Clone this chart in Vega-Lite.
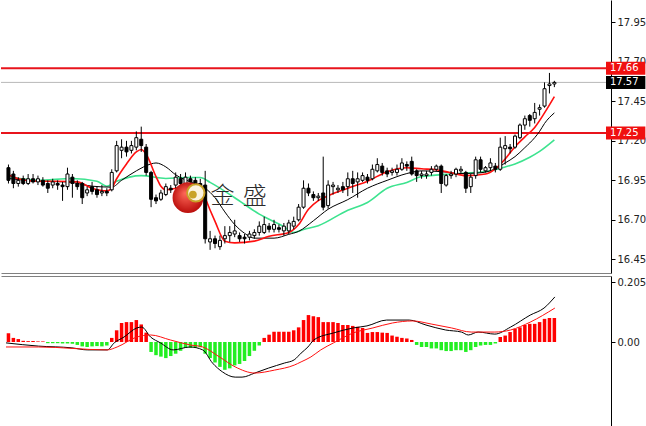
{
  "$schema": "https://vega.github.io/schema/vega-lite/v6.json",
  "padding": 0,
  "spacing": 3,
  "bounds": "flush",
  "background": "white",
  "config": {"view": {"stroke": null}},
  "datasets": {
    "candles": [
      {"i":0,"o":17.03,"h":17.05,"l":16.93,"c":16.95,"m":0.03},
      {"i":1,"o":16.99,"h":17.01,"l":16.90,"c":16.93,"m":0.014},
      {"i":2,"o":16.93,"h":16.97,"l":16.91,"c":16.95,"m":0.01},
      {"i":3,"o":16.96,"h":16.98,"l":16.92,"c":16.93,"m":0.004},
      {"i":4,"o":16.93,"h":16.99,"l":16.92,"c":16.96,"m":0.003},
      {"i":5,"o":16.96,"h":16.99,"l":16.93,"c":16.94,"m":0.003},
      {"i":6,"o":16.94,"h":16.98,"l":16.92,"c":16.96,"m":0.002},
      {"i":7,"o":16.95,"h":16.97,"l":16.91,"c":16.92,"m":0.002},
      {"i":8,"o":16.93,"h":16.95,"l":16.87,"c":16.90,"m":-0.004},
      {"i":9,"o":16.92,"h":16.96,"l":16.90,"c":16.94,"m":-0.004},
      {"i":10,"o":16.93,"h":16.95,"l":16.89,"c":16.92,"m":-0.004},
      {"i":11,"o":16.92,"h":16.94,"l":16.82,"c":16.91,"m":-0.005},
      {"i":12,"o":16.91,"h":17.03,"l":16.89,"c":16.99,"m":-0.005},
      {"i":13,"o":16.97,"h":16.99,"l":16.84,"c":16.93,"m":-0.006},
      {"i":14,"o":16.93,"h":16.95,"l":16.89,"c":16.91,"m":-0.01},
      {"i":15,"o":16.93,"h":16.94,"l":16.80,"c":16.84,"m":-0.015},
      {"i":16,"o":16.87,"h":16.91,"l":16.85,"c":16.89,"m":-0.017},
      {"i":17,"o":16.91,"h":16.94,"l":16.86,"c":16.88,"m":-0.015},
      {"i":18,"o":16.89,"h":16.91,"l":16.84,"c":16.86,"m":-0.014},
      {"i":19,"o":16.87,"h":16.92,"l":16.85,"c":16.88,"m":-0.015},
      {"i":20,"o":16.88,"h":16.90,"l":16.85,"c":16.87,"m":-0.012},
      {"i":21,"o":16.89,"h":17.02,"l":16.88,"c":17.00,"m":0.014},
      {"i":22,"o":17.01,"h":17.20,"l":17.00,"c":17.17,"m":0.04},
      {"i":23,"o":17.14,"h":17.21,"l":17.09,"c":17.16,"m":0.065},
      {"i":24,"o":17.16,"h":17.20,"l":17.10,"c":17.13,"m":0.068},
      {"i":25,"o":17.14,"h":17.20,"l":17.12,"c":17.17,"m":0.068},
      {"i":26,"o":17.16,"h":17.26,"l":17.14,"c":17.22,"m":0.075},
      {"i":27,"o":17.21,"h":17.29,"l":17.13,"c":17.17,"m":0.06},
      {"i":28,"o":17.16,"h":17.18,"l":16.98,"c":17.00,"m":0.032},
      {"i":29,"o":17.00,"h":17.01,"l":16.78,"c":16.83,"m":-0.034},
      {"i":30,"o":16.84,"h":16.86,"l":16.80,"c":16.82,"m":-0.045},
      {"i":31,"o":16.83,"h":16.89,"l":16.82,"c":16.87,"m":-0.05},
      {"i":32,"o":16.86,"h":16.93,"l":16.85,"c":16.91,"m":-0.055},
      {"i":33,"o":16.90,"h":16.92,"l":16.87,"c":16.89,"m":-0.048},
      {"i":34,"o":16.92,"h":17.00,"l":16.90,"c":16.97,"m":-0.04},
      {"i":35,"o":16.96,"h":16.99,"l":16.91,"c":16.93,"m":-0.03},
      {"i":36,"o":16.93,"h":17.00,"l":16.91,"c":16.97,"m":-0.02},
      {"i":37,"o":16.96,"h":16.98,"l":16.92,"c":16.94,"m":-0.02},
      {"i":38,"o":16.95,"h":16.97,"l":16.90,"c":16.92,"m":-0.02},
      {"i":39,"o":16.93,"h":16.96,"l":16.86,"c":16.88,"m":-0.018},
      {"i":40,"o":16.92,"h":17.01,"l":16.55,"c":16.58,"m":-0.04},
      {"i":41,"o":16.56,"h":16.63,"l":16.51,"c":16.58,"m":-0.055},
      {"i":42,"o":16.58,"h":16.60,"l":16.52,"c":16.55,"m":-0.07},
      {"i":43,"o":16.53,"h":16.60,"l":16.51,"c":16.57,"m":-0.085},
      {"i":44,"o":16.58,"h":16.66,"l":16.55,"c":16.60,"m":-0.095},
      {"i":45,"o":16.60,"h":16.66,"l":16.56,"c":16.62,"m":-0.09},
      {"i":46,"o":16.61,"h":16.70,"l":16.59,"c":16.63,"m":-0.08},
      {"i":47,"o":16.60,"h":16.62,"l":16.56,"c":16.58,"m":-0.075},
      {"i":48,"o":16.59,"h":16.61,"l":16.55,"c":16.58,"m":-0.065},
      {"i":49,"o":16.59,"h":16.63,"l":16.57,"c":16.61,"m":-0.048},
      {"i":50,"o":16.60,"h":16.64,"l":16.58,"c":16.62,"m":-0.03},
      {"i":51,"o":16.62,"h":16.69,"l":16.60,"c":16.66,"m":-0.012},
      {"i":52,"o":16.62,"h":16.72,"l":16.61,"c":16.67,"m":0.014},
      {"i":53,"o":16.66,"h":16.68,"l":16.62,"c":16.64,"m":0.025},
      {"i":54,"o":16.64,"h":16.70,"l":16.62,"c":16.67,"m":0.035},
      {"i":55,"o":16.65,"h":16.67,"l":16.62,"c":16.64,"m":0.035},
      {"i":56,"o":16.63,"h":16.68,"l":16.60,"c":16.66,"m":0.035},
      {"i":57,"o":16.63,"h":16.70,"l":16.61,"c":16.68,"m":0.035},
      {"i":58,"o":16.66,"h":16.72,"l":16.64,"c":16.69,"m":0.04},
      {"i":59,"o":16.70,"h":16.80,"l":16.69,"c":16.78,"m":0.05},
      {"i":60,"o":16.78,"h":16.95,"l":16.77,"c":16.90,"m":0.075},
      {"i":61,"o":16.90,"h":16.93,"l":16.85,"c":16.87,"m":0.092},
      {"i":62,"o":16.86,"h":16.88,"l":16.82,"c":16.84,"m":0.088},
      {"i":63,"o":16.84,"h":16.87,"l":16.82,"c":16.85,"m":0.085},
      {"i":64,"o":16.87,"h":17.10,"l":16.76,"c":16.78,"m":0.068},
      {"i":65,"o":16.79,"h":16.95,"l":16.77,"c":16.92,"m":0.068},
      {"i":66,"o":16.91,"h":16.94,"l":16.86,"c":16.92,"m":0.068},
      {"i":67,"o":16.89,"h":16.92,"l":16.87,"c":16.90,"m":0.065},
      {"i":68,"o":16.91,"h":16.94,"l":16.87,"c":16.89,"m":0.058},
      {"i":69,"o":16.91,"h":17.00,"l":16.85,"c":16.96,"m":0.058},
      {"i":70,"o":16.96,"h":17.01,"l":16.87,"c":16.93,"m":0.055},
      {"i":71,"o":16.94,"h":17.00,"l":16.84,"c":16.96,"m":0.052},
      {"i":72,"o":16.95,"h":17.00,"l":16.94,"c":16.98,"m":0.048},
      {"i":73,"o":16.97,"h":16.99,"l":16.93,"c":16.95,"m":0.031},
      {"i":74,"o":16.96,"h":17.05,"l":16.95,"c":17.02,"m":0.034},
      {"i":75,"o":17.01,"h":17.09,"l":17.00,"c":17.05,"m":0.034},
      {"i":76,"o":17.04,"h":17.06,"l":16.98,"c":17.00,"m":0.032},
      {"i":77,"o":17.01,"h":17.03,"l":16.97,"c":16.99,"m":0.031},
      {"i":78,"o":17.00,"h":17.03,"l":16.98,"c":17.01,"m":0.022},
      {"i":79,"o":17.00,"h":17.05,"l":16.98,"c":17.02,"m":0.018},
      {"i":80,"o":17.02,"h":17.09,"l":17.01,"c":17.06,"m":0.014},
      {"i":81,"o":17.05,"h":17.07,"l":17.01,"c":17.04,"m":0.012},
      {"i":82,"o":17.07,"h":17.10,"l":16.98,"c":16.99,"m":0.007},
      {"i":83,"o":17.01,"h":17.02,"l":16.94,"c":16.98,"m":-0.01},
      {"i":84,"o":16.98,"h":17.01,"l":16.96,"c":16.99,"m":-0.017},
      {"i":85,"o":16.98,"h":17.01,"l":16.96,"c":16.99,"m":-0.017},
      {"i":86,"o":17.00,"h":17.04,"l":16.98,"c":17.02,"m":-0.022},
      {"i":87,"o":17.02,"h":17.05,"l":17.01,"c":17.04,"m":-0.022},
      {"i":88,"o":17.04,"h":17.05,"l":16.87,"c":16.93,"m":-0.028},
      {"i":89,"o":16.92,"h":16.99,"l":16.91,"c":16.98,"m":-0.031},
      {"i":90,"o":16.98,"h":17.01,"l":16.96,"c":16.99,"m":-0.031},
      {"i":91,"o":16.99,"h":17.03,"l":16.97,"c":17.02,"m":-0.028},
      {"i":92,"o":17.01,"h":17.04,"l":16.99,"c":17.02,"m":-0.028},
      {"i":93,"o":17.00,"h":17.01,"l":16.87,"c":16.90,"m":-0.034},
      {"i":94,"o":16.91,"h":16.99,"l":16.87,"c":16.97,"m":-0.028},
      {"i":95,"o":16.98,"h":17.10,"l":16.96,"c":17.08,"m":-0.017},
      {"i":96,"o":17.08,"h":17.10,"l":17.00,"c":17.02,"m":-0.012},
      {"i":97,"o":17.01,"h":17.04,"l":17.00,"c":17.03,"m":-0.01},
      {"i":98,"o":17.03,"h":17.09,"l":17.01,"c":17.06,"m":-0.01},
      {"i":99,"o":17.04,"h":17.06,"l":17.00,"c":17.02,"m":-0.005},
      {"i":100,"o":17.02,"h":17.22,"l":17.01,"c":17.16,"m":0.017},
      {"i":101,"o":17.15,"h":17.23,"l":17.05,"c":17.17,"m":0.022},
      {"i":102,"o":17.16,"h":17.18,"l":17.12,"c":17.15,"m":0.034},
      {"i":103,"o":17.16,"h":17.24,"l":17.15,"c":17.23,"m":0.045},
      {"i":104,"o":17.22,"h":17.31,"l":17.21,"c":17.30,"m":0.05},
      {"i":105,"o":17.30,"h":17.36,"l":17.27,"c":17.34,"m":0.058},
      {"i":106,"o":17.36,"h":17.37,"l":17.29,"c":17.33,"m":0.062},
      {"i":107,"o":17.34,"h":17.44,"l":17.31,"c":17.38,"m":0.062},
      {"i":108,"o":17.40,"h":17.43,"l":17.36,"c":17.41,"m":0.068},
      {"i":109,"o":17.42,"h":17.57,"l":17.41,"c":17.53,"m":0.079},
      {"i":110,"o":17.55,"h":17.63,"l":17.50,"c":17.56,"m":0.082},
      {"i":111,"o":17.56,"h":17.58,"l":17.54,"c":17.57,"m":0.082}
    ],
    "ma": [
      {"i":0,"v":16.985,"s":"fast"},{"i":2,"v":16.96,"s":"fast"},{"i":6,"v":16.944,"s":"fast"},{"i":10,"v":16.944,"s":"fast"},{"i":14,"v":16.94,"s":"fast"},{"i":17,"v":16.90,"s":"fast"},{"i":20,"v":16.883,"s":"fast"},{"i":21,"v":16.90,"s":"fast"},{"i":22,"v":16.96,"s":"fast"},{"i":24,"v":17.054,"s":"fast"},{"i":26,"v":17.13,"s":"fast"},{"i":27,"v":17.145,"s":"fast"},{"i":28,"v":17.115,"s":"fast"},{"i":30,"v":16.974,"s":"fast"},{"i":31,"v":16.913,"s":"fast"},{"i":32,"v":16.89,"s":"fast"},{"i":34,"v":16.90,"s":"fast"},{"i":36,"v":16.925,"s":"fast"},{"i":39,"v":16.925,"s":"fast"},{"i":40,"v":16.84,"s":"fast"},{"i":42,"v":16.69,"s":"fast"},{"i":44,"v":16.565,"s":"fast"},{"i":46,"v":16.554,"s":"fast"},{"i":50,"v":16.565,"s":"fast"},{"i":53,"v":16.596,"s":"fast"},{"i":57,"v":16.62,"s":"fast"},{"i":59,"v":16.67,"s":"fast"},{"i":61,"v":16.767,"s":"fast"},{"i":63,"v":16.822,"s":"fast"},{"i":65,"v":16.852,"s":"fast"},{"i":69,"v":16.90,"s":"fast"},{"i":73,"v":16.944,"s":"fast"},{"i":77,"v":17.005,"s":"fast"},{"i":81,"v":17.03,"s":"fast"},{"i":84,"v":17.023,"s":"fast"},{"i":87,"v":17.017,"s":"fast"},{"i":90,"v":16.998,"s":"fast"},{"i":93,"v":16.98,"s":"fast"},{"i":97,"v":16.99,"s":"fast"},{"i":99,"v":17.023,"s":"fast"},{"i":101,"v":17.085,"s":"fast"},{"i":103,"v":17.163,"s":"fast"},{"i":105,"v":17.225,"s":"fast"},{"i":107,"v":17.285,"s":"fast"},{"i":109,"v":17.377,"s":"fast"},{"i":111,"v":17.48,"s":"fast"},
      {"i":0,"v":16.962,"s":"mid"},{"i":6,"v":16.944,"s":"mid"},{"i":12,"v":16.94,"s":"mid"},{"i":17,"v":16.913,"s":"mid"},{"i":21,"v":16.907,"s":"mid"},{"i":23,"v":16.95,"s":"mid"},{"i":26,"v":17.01,"s":"mid"},{"i":29,"v":17.054,"s":"mid"},{"i":30,"v":17.06,"s":"mid"},{"i":32,"v":17.035,"s":"mid"},{"i":34,"v":16.985,"s":"mid"},{"i":37,"v":16.94,"s":"mid"},{"i":40,"v":16.90,"s":"mid"},{"i":42,"v":16.84,"s":"mid"},{"i":44,"v":16.75,"s":"mid"},{"i":46,"v":16.67,"s":"mid"},{"i":48,"v":16.615,"s":"mid"},{"i":50,"v":16.584,"s":"mid"},{"i":54,"v":16.584,"s":"mid"},{"i":57,"v":16.608,"s":"mid"},{"i":59,"v":16.627,"s":"mid"},{"i":62,"v":16.694,"s":"mid"},{"i":65,"v":16.767,"s":"mid"},{"i":69,"v":16.828,"s":"mid"},{"i":73,"v":16.90,"s":"mid"},{"i":77,"v":16.95,"s":"mid"},{"i":81,"v":16.993,"s":"mid"},{"i":84,"v":17.01,"s":"mid"},{"i":88,"v":17.005,"s":"mid"},{"i":92,"v":16.993,"s":"mid"},{"i":96,"v":16.998,"s":"mid"},{"i":99,"v":17.023,"s":"mid"},{"i":101,"v":17.06,"s":"mid"},{"i":103,"v":17.10,"s":"mid"},{"i":105,"v":17.157,"s":"mid"},{"i":107,"v":17.22,"s":"mid"},{"i":108,"v":17.26,"s":"mid"},{"i":109,"v":17.31,"s":"mid"},{"i":111,"v":17.377,"s":"mid"},
      {"i":0,"v":16.974,"s":"slow"},{"i":6,"v":16.95,"s":"slow"},{"i":13,"v":16.962,"s":"slow"},{"i":18,"v":16.944,"s":"slow"},{"i":20,"v":16.913,"s":"slow"},{"i":22,"v":16.944,"s":"slow"},{"i":27,"v":16.98,"s":"slow"},{"i":32,"v":16.962,"s":"slow"},{"i":36,"v":16.968,"s":"slow"},{"i":39,"v":16.968,"s":"slow"},{"i":41,"v":16.937,"s":"slow"},{"i":46,"v":16.84,"s":"slow"},{"i":51,"v":16.736,"s":"slow"},{"i":56,"v":16.657,"s":"slow"},{"i":58,"v":16.62,"s":"slow"},{"i":60,"v":16.639,"s":"slow"},{"i":63,"v":16.663,"s":"slow"},{"i":69,"v":16.761,"s":"slow"},{"i":73,"v":16.81,"s":"slow"},{"i":77,"v":16.90,"s":"slow"},{"i":81,"v":16.937,"s":"slow"},{"i":84,"v":16.974,"s":"slow"},{"i":90,"v":16.99,"s":"slow"},{"i":97,"v":17.005,"s":"slow"},{"i":101,"v":17.035,"s":"slow"},{"i":103,"v":17.054,"s":"slow"},{"i":106,"v":17.096,"s":"slow"},{"i":108,"v":17.133,"s":"slow"},{"i":111,"v":17.206,"s":"slow"}
    ],
    "macd": [
      {"i":-0.5,"v":-0.003,"s":"macd"},{"i":6.1,"v":-0.014,"s":"macd"},{"i":12.9,"v":-0.02,"s":"macd"},{"i":16.1,"v":-0.027,"s":"macd"},{"i":20.1,"v":-0.027,"s":"macd"},{"i":21.5,"v":-0.003,"s":"macd"},{"i":23.5,"v":0.017,"s":"macd"},{"i":26.1,"v":0.048,"s":"macd"},{"i":27.1,"v":0.051,"s":"macd"},{"i":28.9,"v":0.017,"s":"macd"},{"i":30.9,"v":-0.003,"s":"macd"},{"i":33.5,"v":-0.027,"s":"macd"},{"i":36.9,"v":-0.017,"s":"macd"},{"i":39.5,"v":-0.027,"s":"macd"},{"i":41.5,"v":-0.072,"s":"macd"},{"i":43.5,"v":-0.102,"s":"macd"},{"i":46.1,"v":-0.12,"s":"macd"},{"i":47.5,"v":-0.12,"s":"macd"},{"i":50.1,"v":-0.106,"s":"macd"},{"i":52.9,"v":-0.089,"s":"macd"},{"i":56.1,"v":-0.072,"s":"macd"},{"i":58.1,"v":-0.061,"s":"macd"},{"i":59.5,"v":-0.038,"s":"macd"},{"i":60.9,"v":-0.017,"s":"macd"},{"i":62.1,"v":0.007,"s":"macd"},{"i":66.1,"v":0.031,"s":"macd"},{"i":70.1,"v":0.048,"s":"macd"},{"i":72.9,"v":0.055,"s":"macd"},{"i":76.9,"v":0.075,"s":"macd"},{"i":81.5,"v":0.075,"s":"macd"},{"i":84.9,"v":0.058,"s":"macd"},{"i":88.9,"v":0.041,"s":"macd"},{"i":92.1,"v":0.034,"s":"macd"},{"i":93.5,"v":0.024,"s":"macd"},{"i":95.5,"v":0.034,"s":"macd"},{"i":98.9,"v":0.027,"s":"macd"},{"i":102.1,"v":0.051,"s":"macd"},{"i":106.1,"v":0.092,"s":"macd"},{"i":108.9,"v":0.116,"s":"macd"},{"i":111.1,"v":0.154,"s":"macd"},
      {"i":-0.5,"v":-0.017,"s":"signal"},{"i":6.1,"v":-0.017,"s":"signal"},{"i":20.1,"v":-0.027,"s":"signal"},{"i":22.1,"v":-0.017,"s":"signal"},{"i":26.1,"v":0.017,"s":"signal"},{"i":28.9,"v":0.024,"s":"signal"},{"i":32.9,"v":0.007,"s":"signal"},{"i":36.9,"v":-0.01,"s":"signal"},{"i":39.5,"v":-0.017,"s":"signal"},{"i":42.9,"v":-0.051,"s":"signal"},{"i":46.1,"v":-0.085,"s":"signal"},{"i":50.1,"v":-0.106,"s":"signal"},{"i":54.1,"v":-0.096,"s":"signal"},{"i":58.1,"v":-0.079,"s":"signal"},{"i":59.5,"v":-0.068,"s":"signal"},{"i":61.5,"v":-0.051,"s":"signal"},{"i":63.5,"v":-0.027,"s":"signal"},{"i":66.1,"v":-0.003,"s":"signal"},{"i":70.1,"v":0.031,"s":"signal"},{"i":74.1,"v":0.048,"s":"signal"},{"i":78.1,"v":0.065,"s":"signal"},{"i":82.1,"v":0.072,"s":"signal"},{"i":86.1,"v":0.061,"s":"signal"},{"i":90.1,"v":0.048,"s":"signal"},{"i":94.1,"v":0.034,"s":"signal"},{"i":98.9,"v":0.034,"s":"signal"},{"i":102.1,"v":0.041,"s":"signal"},{"i":106.1,"v":0.068,"s":"signal"},{"i":111.1,"v":0.116,"s":"signal"}
    ],
    "levels": [
      {"p":17.66,"t":"resistance"},
      {"p":17.57,"t":"last"},
      {"p":17.25,"t":"support"}
    ],
    "logo": [
      {"i":36.5,"p":16.84,"part":"sphere"},
      {"i":38.1,"p":16.871,"part":"window"},
      {"i":37.5,"p":16.86,"part":"ball"}
    ],
    "brand": [
      {"i":43.5,"p":16.847,"t":"金"},
      {"i":50.1,"p":16.847,"t":"盛"}
    ]
  },
  "vconcat": [
    {
      "width": 610,
      "height": 273,
      "layer": [
        {
          "data": {"name": "levels"},
          "transform": [{"filter": "datum.t == 'last'"}],
          "mark": {"type": "rule", "color": "#b8b8b8", "strokeWidth": 1},
          "encoding": {
            "y": {"field": "p", "type": "quantitative", "scale": {"domain": [16.395, 18.06], "nice": false, "zero": false},
              "axis": {"orient": "right", "values": [16.45, 16.7, 16.95, 17.2, 17.45, 17.7, 17.95], "format": ".2f", "title": null, "grid": false, "tickSize": 4, "labelPadding": 2, "domainColor": "#000", "tickColor": "#000", "labelFont": "DejaVu Sans", "labelFontSize": 10, "labelColor": "#222"}}
          }
        },
        {
          "data": {"name": "levels"},
          "transform": [{"filter": "datum.t != 'last'"}],
          "mark": {"type": "rule", "color": "#e8141c", "strokeWidth": 2},
          "encoding": {
            "y": {"field": "p", "type": "quantitative", "scale": {"domain": [16.395, 18.06], "nice": false, "zero": false},
              "axis": {"orient": "right", "values": [16.45, 16.7, 16.95, 17.2, 17.45, 17.7, 17.95], "format": ".2f", "title": null, "grid": false, "tickSize": 4, "labelPadding": 2, "domainColor": "#000", "tickColor": "#000", "labelFont": "DejaVu Sans", "labelFontSize": 10, "labelColor": "#222"}}
          }
        },
        {
          "data": {"name": "ma"},
          "transform": [{"filter": "datum.s == 'slow'"}],
          "mark": {"type": "line", "strokeWidth": 1.6, "interpolate": "monotone", "color": "#3de38f"},
          "encoding": {
            "x": {"field": "i", "type": "quantitative", "scale": {"domain": [-0.5, 121.5], "nice": false, "zero": false},
              "axis": {"orient": "bottom", "labels": false, "ticks": false, "title": null, "grid": false, "domainColor": "#808080"}},
            "y": {"field": "v", "type": "quantitative", "scale": {"domain": [16.395, 18.06], "nice": false, "zero": false},
              "axis": {"orient": "right", "values": [16.45, 16.7, 16.95, 17.2, 17.45, 17.7, 17.95], "format": ".2f", "title": null, "grid": false, "tickSize": 4, "labelPadding": 2, "domainColor": "#000", "tickColor": "#000", "labelFont": "DejaVu Sans", "labelFontSize": 10, "labelColor": "#222"}},
            "order": {"field": "i", "type": "quantitative"}
          }
        },
        {
          "data": {"name": "ma"},
          "transform": [{"filter": "datum.s == 'mid'"}],
          "mark": {"type": "line", "strokeWidth": 1, "interpolate": "monotone", "color": "#000000"},
          "encoding": {
            "x": {"field": "i", "type": "quantitative", "scale": {"domain": [-0.5, 121.5], "nice": false, "zero": false},
              "axis": {"orient": "bottom", "labels": false, "ticks": false, "title": null, "grid": false, "domainColor": "#808080"}},
            "y": {"field": "v", "type": "quantitative", "scale": {"domain": [16.395, 18.06], "nice": false, "zero": false},
              "axis": {"orient": "right", "values": [16.45, 16.7, 16.95, 17.2, 17.45, 17.7, 17.95], "format": ".2f", "title": null, "grid": false, "tickSize": 4, "labelPadding": 2, "domainColor": "#000", "tickColor": "#000", "labelFont": "DejaVu Sans", "labelFontSize": 10, "labelColor": "#222"}},
            "order": {"field": "i", "type": "quantitative"}
          }
        },
        {
          "data": {"name": "ma"},
          "transform": [{"filter": "datum.s == 'fast'"}],
          "mark": {"type": "line", "strokeWidth": 1.6, "interpolate": "monotone", "color": "#ff1010"},
          "encoding": {
            "x": {"field": "i", "type": "quantitative", "scale": {"domain": [-0.5, 121.5], "nice": false, "zero": false},
              "axis": {"orient": "bottom", "labels": false, "ticks": false, "title": null, "grid": false, "domainColor": "#808080"}},
            "y": {"field": "v", "type": "quantitative", "scale": {"domain": [16.395, 18.06], "nice": false, "zero": false},
              "axis": {"orient": "right", "values": [16.45, 16.7, 16.95, 17.2, 17.45, 17.7, 17.95], "format": ".2f", "title": null, "grid": false, "tickSize": 4, "labelPadding": 2, "domainColor": "#000", "tickColor": "#000", "labelFont": "DejaVu Sans", "labelFontSize": 10, "labelColor": "#222"}},
            "order": {"field": "i", "type": "quantitative"}
          }
        },
        {
          "data": {"name": "candles"},
          "mark": {"type": "rule", "color": "#000", "strokeWidth": 1},
          "encoding": {
            "x": {"field": "i", "type": "quantitative", "scale": {"domain": [-0.5, 121.5], "nice": false, "zero": false},
              "axis": {"orient": "bottom", "labels": false, "ticks": false, "title": null, "grid": false, "domainColor": "#808080"}},
            "y": {"field": "l", "type": "quantitative", "scale": {"domain": [16.395, 18.06], "nice": false, "zero": false},
              "axis": {"orient": "right", "values": [16.45, 16.7, 16.95, 17.2, 17.45, 17.7, 17.95], "format": ".2f", "title": null, "grid": false, "tickSize": 4, "labelPadding": 2, "domainColor": "#000", "tickColor": "#000", "labelFont": "DejaVu Sans", "labelFontSize": 10, "labelColor": "#222"}},
            "y2": {"field": "h"}
          }
        },
        {
          "data": {"name": "candles"},
          "mark": {"type": "bar", "size": 3, "stroke": "#000", "strokeWidth": 1},
          "encoding": {
            "x": {"field": "i", "type": "quantitative", "scale": {"domain": [-0.5, 121.5], "nice": false, "zero": false},
              "axis": {"orient": "bottom", "labels": false, "ticks": false, "title": null, "grid": false, "domainColor": "#808080"}},
            "y": {"field": "o", "type": "quantitative", "scale": {"domain": [16.395, 18.06], "nice": false, "zero": false},
              "axis": {"orient": "right", "values": [16.45, 16.7, 16.95, 17.2, 17.45, 17.7, 17.95], "format": ".2f", "title": null, "grid": false, "tickSize": 4, "labelPadding": 2, "domainColor": "#000", "tickColor": "#000", "labelFont": "DejaVu Sans", "labelFontSize": 10, "labelColor": "#222"}},
            "y2": {"field": "c"},
            "fill": {"condition": {"test": "datum.c >= datum.o", "value": "#ffffff"}, "value": "#000000"}
          }
        },
        {
          "data": {"name": "logo"},
          "transform": [{"filter": "datum.part == 'sphere'"}],
          "mark": {"type": "circle", "size": 950, "opacity": 1, "fill": {"gradient": "radial", "x1": 0.4, "y1": 0.35, "x2": 0.5, "y2": 0.5, "r1": 0, "r2": 0.6, "stops": [{"offset": 0, "color": "#ff6a5a"}, {"offset": 1, "color": "#b00000"}]}},
          "encoding": {
            "x": {"field": "i", "type": "quantitative", "scale": {"domain": [-0.5, 121.5], "nice": false, "zero": false},
              "axis": {"orient": "bottom", "labels": false, "ticks": false, "title": null, "grid": false, "domainColor": "#808080"}},
            "y": {"field": "p", "type": "quantitative", "scale": {"domain": [16.395, 18.06], "nice": false, "zero": false},
              "axis": {"orient": "right", "values": [16.45, 16.7, 16.95, 17.2, 17.45, 17.7, 17.95], "format": ".2f", "title": null, "grid": false, "tickSize": 4, "labelPadding": 2, "domainColor": "#000", "tickColor": "#000", "labelFont": "DejaVu Sans", "labelFontSize": 10, "labelColor": "#222"}}
          }
        },
        {
          "data": {"name": "logo"},
          "transform": [{"filter": "datum.part == 'window'"}],
          "mark": {"type": "circle", "size": 300, "opacity": 1, "fill": "#fbf3e0", "stroke": "#c9a227", "strokeWidth": 2},
          "encoding": {
            "x": {"field": "i", "type": "quantitative", "scale": {"domain": [-0.5, 121.5], "nice": false, "zero": false},
              "axis": {"orient": "bottom", "labels": false, "ticks": false, "title": null, "grid": false, "domainColor": "#808080"}},
            "y": {"field": "p", "type": "quantitative", "scale": {"domain": [16.395, 18.06], "nice": false, "zero": false},
              "axis": {"orient": "right", "values": [16.45, 16.7, 16.95, 17.2, 17.45, 17.7, 17.95], "format": ".2f", "title": null, "grid": false, "tickSize": 4, "labelPadding": 2, "domainColor": "#000", "tickColor": "#000", "labelFont": "DejaVu Sans", "labelFontSize": 10, "labelColor": "#222"}}
          }
        },
        {
          "data": {"name": "logo"},
          "transform": [{"filter": "datum.part == 'ball'"}],
          "mark": {"type": "circle", "size": 60, "opacity": 1, "fill": "#c9a227"},
          "encoding": {
            "x": {"field": "i", "type": "quantitative", "scale": {"domain": [-0.5, 121.5], "nice": false, "zero": false},
              "axis": {"orient": "bottom", "labels": false, "ticks": false, "title": null, "grid": false, "domainColor": "#808080"}},
            "y": {"field": "p", "type": "quantitative", "scale": {"domain": [16.395, 18.06], "nice": false, "zero": false},
              "axis": {"orient": "right", "values": [16.45, 16.7, 16.95, 17.2, 17.45, 17.7, 17.95], "format": ".2f", "title": null, "grid": false, "tickSize": 4, "labelPadding": 2, "domainColor": "#000", "tickColor": "#000", "labelFont": "DejaVu Sans", "labelFontSize": 10, "labelColor": "#222"}}
          }
        },
        {
          "data": {"name": "brand"},
          "mark": {"type": "text", "font": "Noto Sans CJK SC", "fontSize": 24, "fontWeight": 300, "color": "#2a2a2a", "align": "center", "baseline": "middle"},
          "encoding": {
            "x": {"field": "i", "type": "quantitative", "scale": {"domain": [-0.5, 121.5], "nice": false, "zero": false},
              "axis": {"orient": "bottom", "labels": false, "ticks": false, "title": null, "grid": false, "domainColor": "#808080"}},
            "y": {"field": "p", "type": "quantitative", "scale": {"domain": [16.395, 18.06], "nice": false, "zero": false},
              "axis": {"orient": "right", "values": [16.45, 16.7, 16.95, 17.2, 17.45, 17.7, 17.95], "format": ".2f", "title": null, "grid": false, "tickSize": 4, "labelPadding": 2, "domainColor": "#000", "tickColor": "#000", "labelFont": "DejaVu Sans", "labelFontSize": 10, "labelColor": "#222"}},
            "text": {"field": "t"}
          }
        },
        {
          "data": {"name": "levels"},
          "mark": {"type": "bar", "size": 13},
          "encoding": {
            "x": {"datum": 121.5, "type": "quantitative", "scale": {"domain": [-0.5, 121.5], "nice": false, "zero": false},
              "axis": {"orient": "bottom", "labels": false, "ticks": false, "title": null, "grid": false, "domainColor": "#808080"}},
            "x2": {"datum": 129.5},
            "y": {"field": "p", "type": "quantitative", "scale": {"domain": [16.395, 18.06], "nice": false, "zero": false},
              "axis": {"orient": "right", "values": [16.45, 16.7, 16.95, 17.2, 17.45, 17.7, 17.95], "format": ".2f", "title": null, "grid": false, "tickSize": 4, "labelPadding": 2, "domainColor": "#000", "tickColor": "#000", "labelFont": "DejaVu Sans", "labelFontSize": 10, "labelColor": "#222"}},
            "color": {"condition": {"test": "datum.t == 'last'", "value": "#000000"}, "value": "#f01010"}
          }
        },
        {
          "data": {"name": "levels"},
          "mark": {"type": "text", "align": "left", "baseline": "middle", "color": "#ffffff", "font": "DejaVu Sans", "fontSize": 10},
          "encoding": {
            "x": {"datum": 122.3, "type": "quantitative", "scale": {"domain": [-0.5, 121.5], "nice": false, "zero": false},
              "axis": {"orient": "bottom", "labels": false, "ticks": false, "title": null, "grid": false, "domainColor": "#808080"}},
            "y": {"field": "p", "type": "quantitative", "scale": {"domain": [16.395, 18.06], "nice": false, "zero": false},
              "axis": {"orient": "right", "values": [16.45, 16.7, 16.95, 17.2, 17.45, 17.7, 17.95], "format": ".2f", "title": null, "grid": false, "tickSize": 4, "labelPadding": 2, "domainColor": "#000", "tickColor": "#000", "labelFont": "DejaVu Sans", "labelFontSize": 10, "labelColor": "#222"}},
            "text": {"field": "p", "format": ".2f"}
          }
        }
      ]
    },
    {
      "width": 610,
      "height": 150,
      "layer": [
        {
          "data": {"name": "candles"},
          "mark": {"type": "bar", "size": 3.5},
          "encoding": {
            "x": {"field": "i", "type": "quantitative", "scale": {"domain": [-0.5, 121.5], "nice": false, "zero": false},
              "axis": {"orient": "top", "labels": false, "ticks": false, "title": null, "grid": false, "domainColor": "#808080"}},
            "y": {"field": "m", "type": "quantitative", "scale": {"domain": [-0.287, 0.2255], "nice": false, "zero": false},
              "axis": {"orient": "right", "values": [0, 0.205], "labelExpr": "datum.value == 0 ? '0.00' : '0.205'", "title": null, "grid": false, "tickSize": 4, "labelPadding": 2, "domainColor": "#000", "tickColor": "#000", "labelFont": "DejaVu Sans", "labelFontSize": 10, "labelColor": "#222"}},
            "color": {"condition": {"test": "datum.m >= 0", "value": "#ff0000"}, "value": "#22ee22"}
          }
        },
        {
          "data": {"name": "macd"},
          "transform": [{"filter": "datum.s == 'macd'"}],
          "mark": {"type": "line", "strokeWidth": 1, "interpolate": "monotone", "color": "#000000"},
          "encoding": {
            "x": {"field": "i", "type": "quantitative", "scale": {"domain": [-0.5, 121.5], "nice": false, "zero": false},
              "axis": {"orient": "top", "labels": false, "ticks": false, "title": null, "grid": false, "domainColor": "#808080"}},
            "y": {"field": "v", "type": "quantitative", "scale": {"domain": [-0.287, 0.2255], "nice": false, "zero": false},
              "axis": {"orient": "right", "values": [0, 0.205], "labelExpr": "datum.value == 0 ? '0.00' : '0.205'", "title": null, "grid": false, "tickSize": 4, "labelPadding": 2, "domainColor": "#000", "tickColor": "#000", "labelFont": "DejaVu Sans", "labelFontSize": 10, "labelColor": "#222"}},
            "order": {"field": "i", "type": "quantitative"}
          }
        },
        {
          "data": {"name": "macd"},
          "transform": [{"filter": "datum.s == 'signal'"}],
          "mark": {"type": "line", "strokeWidth": 1, "interpolate": "monotone", "color": "#ff1010"},
          "encoding": {
            "x": {"field": "i", "type": "quantitative", "scale": {"domain": [-0.5, 121.5], "nice": false, "zero": false},
              "axis": {"orient": "top", "labels": false, "ticks": false, "title": null, "grid": false, "domainColor": "#808080"}},
            "y": {"field": "v", "type": "quantitative", "scale": {"domain": [-0.287, 0.2255], "nice": false, "zero": false},
              "axis": {"orient": "right", "values": [0, 0.205], "labelExpr": "datum.value == 0 ? '0.00' : '0.205'", "title": null, "grid": false, "tickSize": 4, "labelPadding": 2, "domainColor": "#000", "tickColor": "#000", "labelFont": "DejaVu Sans", "labelFontSize": 10, "labelColor": "#222"}},
            "order": {"field": "i", "type": "quantitative"}
          }
        }
      ]
    }
  ]
}
